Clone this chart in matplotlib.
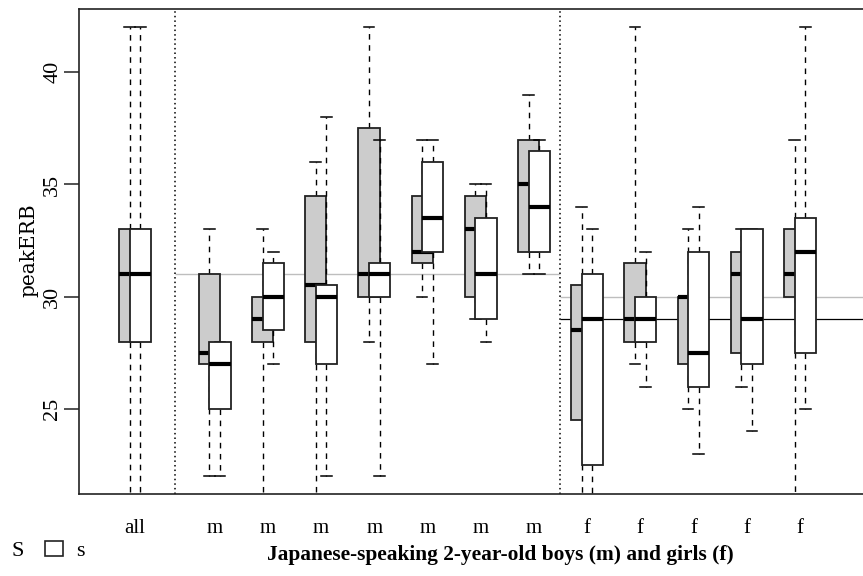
import matplotlib
matplotlib.use("Agg")
import matplotlib.pyplot as plt
from matplotlib.patches import Patch

# group labels and positions on the x axis
labels = ["all", "m", "m", "m", "m", "m", "m", "m", "f", "f", "f", "f", "f"]
centers = [1, 2.5, 3.5, 4.5, 5.5, 6.5, 7.5, 8.5, 9.5, 10.5, 11.5, 12.5, 13.5]

# grey boxes (S): lower whisker, q1, median, q3, upper whisker
S_lo = [20, 22, 20, 20, 28, 30, 29, 31, 20, 27, 25, 26, 20]
S_q1 = [28, 27, 28, 28, 30, 31.5, 30, 32, 24.5, 28, 27, 27.5, 30]
S_med = [31, 27.5, 29, 30.5, 31, 32, 33, 35, 28.5, 29, 30, 31, 31]
S_q3 = [33, 31, 30, 34.5, 37.5, 34.5, 34.5, 37, 30.5, 31.5, 30, 32, 33]
S_hi = [42, 33, 33, 36, 42, 37, 35, 39, 34, 42, 33, 33, 37]

# white boxes (s)
s_lo = [20, 22, 27, 22, 22, 27, 28, 31, 20, 26, 23, 24, 25]
s_q1 = [28, 25, 28.5, 27, 30, 32, 29, 32, 22.5, 28, 26, 27, 27.5]
s_med = [31, 27, 30, 30, 31, 33.5, 31, 34, 29, 29, 27.5, 29, 32]
s_q3 = [33, 28, 31.5, 30.5, 31.5, 36, 33.5, 36.5, 31, 30, 32, 33, 33.5]
s_hi = [42, 28, 32, 38, 37, 37, 35, 37, 33, 32, 34, 33, 42]

# reference levels
ref_m = 31
ref_f_grey = 30
ref_f_black = 29
dividers = [1.75, 9.0]


def stats(lo, q1, med, q3, hi):
    return [dict(whislo=a, q1=b, med=c, q3=d, whishi=e, fliers=[])
            for a, b, c, d, e in zip(lo, q1, med, q3, hi)]


W, H = 863, 576
fig = plt.figure(figsize=(W / 100, H / 100), dpi=100)
ax = fig.add_axes([79 / W, 1 - 494.3 / H, 800.7 / W, 485 / H])
ax.set_xlim(-0.05, 15.0)
ax.set_ylim(21.2, 42.8)

# reference lines under the boxes
ax.hlines(ref_m, dividers[0], dividers[1], color="#bebebe", lw=1, zorder=1)
ax.hlines(ref_f_grey, dividers[1], 16, color="#bebebe", lw=1, zorder=1)
ax.hlines(ref_f_black, dividers[1], 16, color="black", lw=0.9, zorder=1)
for d in dividers:
    ax.axvline(d, color="black", lw=1.1, linestyle=(0, (1, 2)), zorder=1)

dash = (0, (4, 4))
for st, off, fill, z in [(stats(S_lo, S_q1, S_med, S_q3, S_hi), -0.1, "#cccccc", 2),
                         (stats(s_lo, s_q1, s_med, s_q3, s_hi), 0.1, "white", 4)]:
    pos = [c + off for c in centers]
    ax.bxp(st, positions=pos, widths=0.4, capwidths=0.2, patch_artist=True,
           showfliers=False, manage_ticks=False,
           boxprops=dict(facecolor=fill, edgecolor="#222222", lw=1.3, zorder=z + 0.5),
           whiskerprops=dict(color="black", lw=1.0, linestyle=dash, zorder=z),
           capprops=dict(color="black", lw=1.1, zorder=z),
           medianprops=dict(color="black", lw=3.0, solid_capstyle="butt", zorder=z + 0.6))

for sp in ["top", "left", "bottom", "right"]:
    ax.spines[sp].set_linewidth(1.2)
    ax.spines[sp].set_color("#222222")

ax.set_yticks([25, 30, 35, 40])
ax.set_yticklabels(["25", "30", "35", "40"], rotation=90, va="center",
                   family="Liberation Serif", fontsize=16)
ax.tick_params(axis="y", length=11, width=1.1, pad=1, color="#222222")
ax.set_xticks(centers)
ax.set_xticklabels(labels, family="Liberation Serif", fontsize=15)
ax.tick_params(axis="x", length=0, pad=18)

ax.set_ylabel("peakERB", family="DejaVu Serif", fontsize=14.5, va="center")
ax.yaxis.set_label_coords(-0.062, 0.504)
ax.set_xlabel("Japanese-speaking 2-year-old boys (m) and girls (f)",
              family="Liberation Serif", fontweight="bold", fontsize=15.4)
ax.xaxis.set_label_coords(0.526, -0.104)

handles = [Patch(facecolor="#cccccc", edgecolor="#222222", lw=1.2),
           Patch(facecolor="white", edgecolor="#222222", lw=1.2)]
fig.legend(handles, ["S", "s"], ncol=2, frameon=False, loc="center left",
           bbox_to_anchor=(-20 / W, 1 - 551 / H), borderpad=0, borderaxespad=0,
           prop=dict(family="Liberation Serif", size=16), handlelength=0.85,
           handleheight=0.7, handletextpad=0.55, columnspacing=0.95)

fig.savefig("out.png", dpi=100)
